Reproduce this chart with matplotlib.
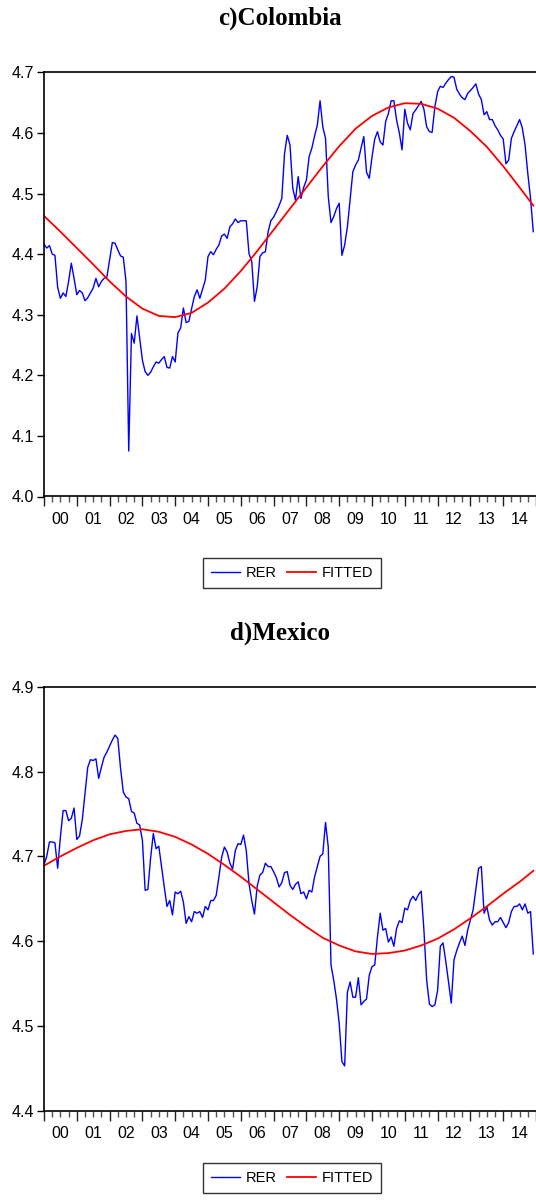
import numpy as np
import matplotlib
matplotlib.use("Agg")
import matplotlib.pyplot as plt
import matplotlib.lines as ln
from matplotlib.transforms import blended_transform_factory

# monthly data, Jan 2000 - Dec 2014
months = 2000 + np.arange(180) / 12.0

col_rer = [
    4.416, 4.410, 4.414, 4.400, 4.398, 4.345, 4.327, 4.336, 4.330, 4.355, 4.385, 4.360,
    4.333, 4.340, 4.336, 4.323, 4.328, 4.336, 4.344, 4.360, 4.346, 4.355, 4.360, 4.362,
    4.390, 4.419, 4.418, 4.407, 4.397, 4.395, 4.355, 4.075, 4.269, 4.253, 4.298, 4.262,
    4.225, 4.206, 4.200, 4.205, 4.214, 4.222, 4.220, 4.226, 4.231, 4.213, 4.212, 4.231,
    4.222, 4.270, 4.278, 4.311, 4.287, 4.289, 4.310, 4.330, 4.341, 4.327, 4.342, 4.357,
    4.396, 4.404, 4.399, 4.408, 4.415, 4.430, 4.433, 4.426, 4.445, 4.450, 4.458, 4.452,
    4.455, 4.455, 4.455, 4.401, 4.388, 4.322, 4.346, 4.396, 4.402, 4.404, 4.437, 4.455,
    4.461, 4.470, 4.480, 4.492, 4.566, 4.596, 4.580, 4.509, 4.489, 4.528, 4.492, 4.510,
    4.522, 4.561, 4.575, 4.595, 4.613, 4.653, 4.610, 4.591, 4.495, 4.452, 4.462, 4.475,
    4.484, 4.398, 4.415, 4.445, 4.490, 4.536, 4.547, 4.555, 4.575, 4.594, 4.535, 4.525,
    4.560, 4.590, 4.602, 4.585, 4.580, 4.619, 4.632, 4.653, 4.653, 4.621, 4.600, 4.572,
    4.639, 4.616, 4.605, 4.632, 4.638, 4.645, 4.652, 4.639, 4.610, 4.602, 4.601, 4.643,
    4.668, 4.677, 4.675, 4.682, 4.688, 4.693, 4.692, 4.672, 4.664, 4.658, 4.655, 4.665,
    4.670, 4.675, 4.681, 4.664, 4.655, 4.630, 4.635, 4.622, 4.622, 4.612, 4.605, 4.596,
    4.590, 4.549, 4.555, 4.591, 4.602, 4.612, 4.622, 4.608, 4.580, 4.533, 4.492, 4.437,
]

mex_rer = [
    4.690, 4.700, 4.717, 4.717, 4.716, 4.686, 4.723, 4.754, 4.754, 4.742, 4.745, 4.757,
    4.720, 4.724, 4.743, 4.774, 4.805, 4.814, 4.813, 4.815, 4.792, 4.805, 4.817, 4.823,
    4.830, 4.837, 4.843, 4.839, 4.804, 4.776, 4.770, 4.768, 4.753, 4.751, 4.739, 4.737,
    4.719, 4.660, 4.661, 4.698, 4.727, 4.709, 4.712, 4.688, 4.664, 4.641, 4.648, 4.631,
    4.658, 4.656, 4.659, 4.646, 4.621, 4.629, 4.623, 4.635, 4.633, 4.635, 4.628, 4.641,
    4.637, 4.648, 4.648, 4.654, 4.676, 4.699, 4.711, 4.705, 4.692, 4.685, 4.707, 4.715,
    4.714, 4.725, 4.707, 4.668, 4.648, 4.632, 4.665, 4.678, 4.681, 4.692, 4.688, 4.688,
    4.682, 4.675, 4.664, 4.669, 4.681, 4.682, 4.666, 4.661, 4.667, 4.670, 4.656, 4.658,
    4.650, 4.660, 4.658, 4.676, 4.688, 4.700, 4.703, 4.740, 4.711, 4.572, 4.554, 4.532,
    4.503, 4.458, 4.453, 4.540, 4.552, 4.534, 4.534, 4.557, 4.525, 4.529, 4.532, 4.560,
    4.570, 4.572, 4.605, 4.633, 4.613, 4.615, 4.599, 4.605, 4.594, 4.615, 4.624, 4.622,
    4.639, 4.637, 4.648, 4.653, 4.648, 4.655, 4.659, 4.613, 4.554, 4.526, 4.523, 4.525,
    4.542, 4.594, 4.598, 4.576, 4.552, 4.527, 4.578, 4.589, 4.598, 4.606, 4.595, 4.613,
    4.625, 4.637, 4.662, 4.686, 4.688, 4.633, 4.641, 4.625, 4.619, 4.623, 4.623, 4.628,
    4.622, 4.616, 4.622, 4.635, 4.641, 4.641, 4.644, 4.637, 4.644, 4.633, 4.635, 4.585,
]

# fitted curves, read every half year
fit_dates = [2000.0, 2000.5, 2001.0, 2001.5, 2002.0, 2002.5, 2003.0, 2003.5,
             2004.0, 2004.5, 2005.0, 2005.5, 2006.0, 2006.5, 2007.0, 2007.5,
             2008.0, 2008.5, 2009.0, 2009.5, 2010.0, 2010.5, 2011.0, 2011.5,
             2012.0, 2012.5, 2013.0, 2013.5, 2014.0, 2014.5, 2014.92]
col_fit = [4.463, 4.437, 4.410, 4.383, 4.355, 4.330, 4.310, 4.298,
           4.296, 4.303, 4.320, 4.343, 4.372, 4.405, 4.440, 4.475,
           4.510, 4.545, 4.578, 4.607, 4.628, 4.642, 4.649, 4.648,
           4.640, 4.625, 4.603, 4.577, 4.545, 4.510, 4.480]
mex_fit = [4.689, 4.700, 4.710, 4.719, 4.726, 4.730, 4.732, 4.729,
           4.723, 4.714, 4.703, 4.690, 4.676, 4.661, 4.646, 4.631,
           4.617, 4.604, 4.595, 4.588, 4.585, 4.586, 4.589, 4.595,
           4.603, 4.614, 4.627, 4.641, 4.656, 4.670, 4.683]

year_labels = ["00", "01", "02", "03", "04", "05", "06", "07",
               "08", "09", "10", "11", "12", "13", "14"]

sans = ["Liberation Sans Narrow", "Liberation Sans", "DejaVu Sans"]
serif = ["Liberation Serif", "DejaVu Serif"]

W, H = 536, 1204
fig = plt.figure(figsize=(W / 100, H / 100), dpi=100)


def panel(top_px, ylo, yhi, rer, fit, title, title_y, legend_y):
    ax = fig.add_axes([44 / W, 1 - (top_px + 424.2) / H, (W - 44) / W, 424.2 / H])
    ax.plot(months, rer, color="#0000ff", lw=1.0)
    ax.plot(fit_dates, fit, color="#ff0000", lw=1.3)
    ax.set_xlim(2000, 2015)
    ax.set_ylim(ylo, yhi)
    yt = np.round(np.arange(ylo, yhi + 0.001, 0.1), 1)
    ax.set_yticks(yt)
    ax.set_yticklabels(["%.1f" % v for v in yt], family=sans, fontsize=11.5)
    ax.set_xticks(np.arange(2000, 2016))
    ax.set_xticklabels([])
    ax.set_xticks(np.arange(2000, 2015.01, 0.25), minor=True)
    ax.tick_params(axis="x", which="major", direction="out", length=7, width=1, color="#222222")
    ax.tick_params(axis="x", which="minor", direction="out", length=4, width=1, color="#555555")
    ax.tick_params(axis="y", direction="out", length=5, width=1, pad=2)
    ax.spines["right"].set_visible(False)
    for s in ["top", "left", "bottom"]:
        ax.spines[s].set_linewidth(1.2)
    tr = blended_transform_factory(ax.transData, ax.transAxes)
    for i, lab in enumerate(year_labels):
        ax.text(2000.5 + i, -0.036, lab, transform=tr, ha="center", va="top",
                family=sans, fontsize=11.5)
    fig.text(280 / W, 1 - title_y / H, title, ha="center", va="center",
             family=serif, fontsize=18, fontweight="bold")
    handles = [ln.Line2D([], [], color="#0000ff", lw=1.0),
               ln.Line2D([], [], color="#ff0000", lw=1.3)]
    leg = fig.legend(handles, ["RER", "FITTED"], loc="center",
                     bbox_to_anchor=(292 / W, 1 - legend_y / H), ncol=2,
                     prop={"family": sans, "size": 10.5}, frameon=True,
                     fancybox=False, handlelength=2.0, columnspacing=0.7,
                     handletextpad=0.4, borderpad=0.55, borderaxespad=0)
    leg.get_frame().set_edgecolor("black")
    leg.get_frame().set_linewidth(1.0)
    return ax


panel(72.3, 4.0, 4.7, col_rer, col_fit, "c)Colombia", 18, 573)
panel(686.7, 4.4, 4.9, mex_rer, mex_fit, "d)Mexico", 633, 1178)

fig.savefig("out.png", dpi=100)
